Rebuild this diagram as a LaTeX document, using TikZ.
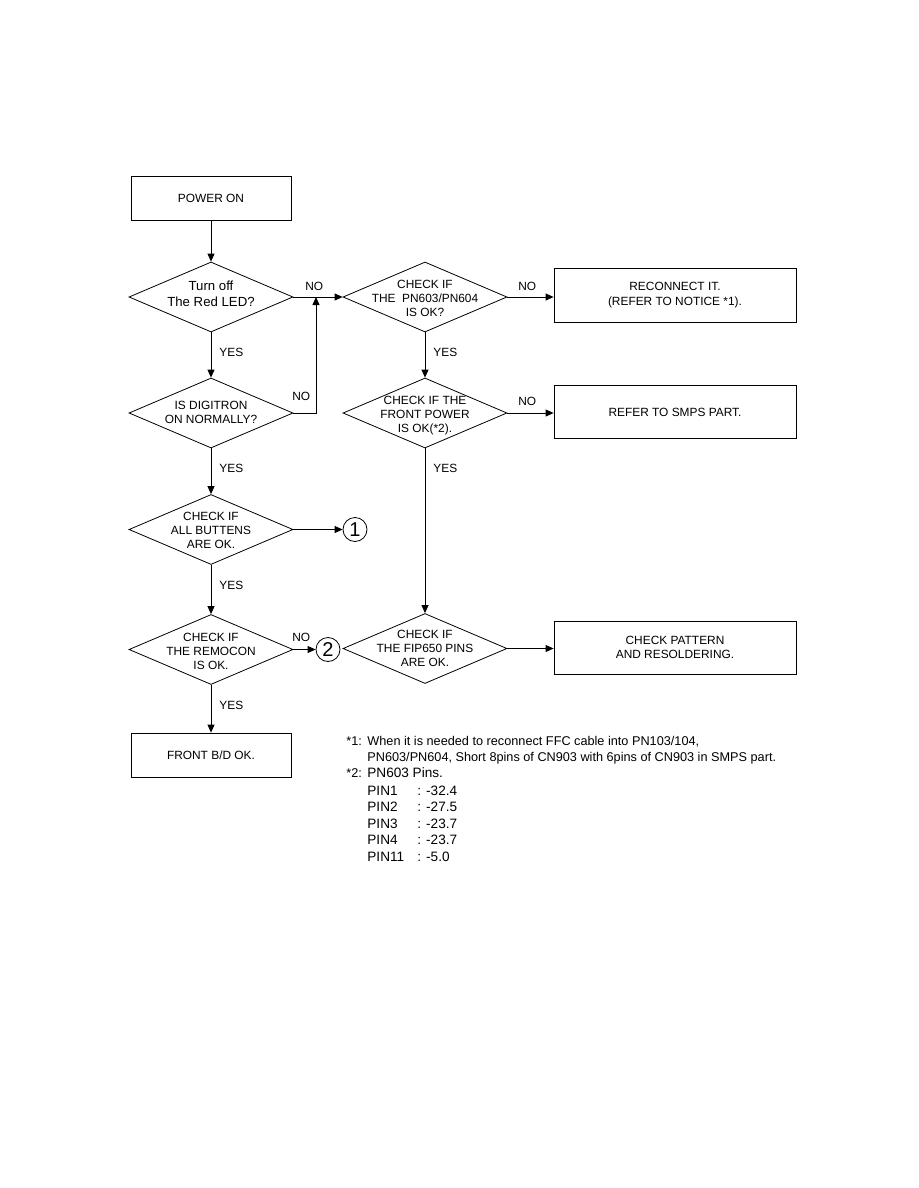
\documentclass[tikz,border=0pt]{standalone}
\usepackage{fontspec}
\setmainfont{Liberation Sans}
\usetikzlibrary{shapes.geometric,arrows.meta}
\begin{document}
\begin{tikzpicture}[x=1pt,y=-1pt,line width=0.8pt,
  box/.style={draw, rectangle, inner sep=0pt, align=center, font=\fontsize{11.9}{14.5}\selectfont},
  dia/.style={draw, diamond, inner sep=0pt, minimum width=164pt, minimum height=70pt},
  dtext/.style={align=center, inner sep=0pt, font=\fontsize{11.9}{14}\selectfont},
  lbl/.style={anchor=west, inner sep=0pt, font=\fontsize{11.9}{14}\selectfont},
  conn/.style={draw, circle, inner sep=0pt, minimum size=24pt, font=\fontsize{20}{20}\selectfont},
  arr/.style={-{Triangle[length=8pt,width=7pt]}},
  note/.style={anchor=base west, inner sep=0pt, font=\fontsize{12.7}{16}\selectfont},
  bignote/.style={anchor=base west, inner sep=0pt, font=\fontsize{13.6}{16}\selectfont}]
\useasboundingbox (0,0) rectangle (918,1188);

% boxes
\node[box, minimum width=160pt, minimum height=44pt] (pon) at (211,198) {POWER ON};
\node[box, minimum width=160pt, minimum height=44pt] (fok) at (211,755) {FRONT B/D OK.};
\node[box, minimum width=242pt, minimum height=54pt] (recon) at (675,295) {RECONNECT IT.\\(REFER TO NOTICE *1).};
\node[box, minimum width=242pt, minimum height=53pt] (smps) at (675,412) {REFER TO SMPS PART.};
\node[box, minimum width=242pt, minimum height=53pt] (patt) at (675,647.5) {CHECK PATTERN\\AND RESOLDERING.};

% diamonds
\node[dia] (d1) at (211,297) {};
\node[dtext, font=\fontsize{13.2}{16.5}\selectfont] (t1) at (211,294) {Turn off\\The Red LED?};
\node[dia] (d2) at (211,413) {};
\node[dtext] (t2) at (211,412.5) {IS DIGITRON\\ON NORMALLY?};
\node[dia] (d5) at (211,529.5) {};
\node[dtext] (t5) at (211,530) {CHECK IF\\ALL BUTTENS\\ARE OK.};
\node[dia] (d6) at (211,649.5) {};
\node[dtext] (t6) at (211,651) {CHECK IF\\THE REMOCON\\IS OK.};
\node[dia] (d3) at (425,297) {};
\node[dtext] (t3) at (425,298.5) {CHECK IF\\THE\ \ PN603/PN604\\IS OK?};
\node[dia] (d4) at (425,413) {};
\node[dtext] (t4) at (425,415.5) {CHECK IF THE\\FRONT POWER\\IS OK(*2).};
\node[dia] (d7) at (425,648.5) {};
\node[dtext] (t7) at (425,648.5) {CHECK IF\\THE FIP650 PINS\\ARE OK.};

% connectors (circles)
\node[conn] (c1) at (355,529.5) {1};
\node[conn] (c2) at (328,649.5) {2};

% arrows
\draw[arr] (pon) -- (d1.north);
\draw[arr] (d1.south) -- (d2.north);
\draw[arr] (d2.south) -- (d5.north);
\draw[arr] (d5.south) -- (d6.north);
\draw[arr] (d6.south) -- (fok.north);
\draw[arr] (d1.east) -- (d3.west);
\coordinate (j) at (316,297);
\draw[arr] (d2.east) -| (j);
\draw[arr] (d3.east) -- (recon.west |- d3.east);
\draw[arr] (d3.south) -- (d4.north);
\draw[arr] (d4.east) -- (smps.west |- d4.east);
\draw[arr] (d4.south) -- (d7.north);
\draw[arr] (d7.east) -- (patt.west |- d7.east);
\draw[arr] (d5.east) -- (c1.west);
\draw[arr] (d6.east) -- (c2.west);

% labels
\node[lbl] (y1) at (219,352) {YES};
\node[lbl] (y2) at (219,468) {YES};
\node[lbl] (y3) at (219,585) {YES};
\node[lbl] (y4) at (219,705) {YES};
\node[lbl] (y5) at (433,352) {YES};
\node[lbl] (y6) at (433,468) {YES};
\node[lbl] (n1) at (305,286) {NO};
\node[lbl] (n2) at (292,396) {NO};
\node[lbl] (n3) at (518,286) {NO};
\node[lbl] (n4) at (518,401) {NO};
\node[lbl] (n5) at (292,637) {NO};

% notes
\node[note] (s1) at (346,745) {*1:};
\node[note] (l1) at (367,745) {When it is needed to reconnect FFC cable into PN103/104,};
\node[note] (l2) at (367,761) {PN603/PN604, Short 8pins of CN903 with 6pins of CN903 in SMPS part.};
\node[note] (s2) at (346,777) {*2:};
\node[bignote] (l3) at (367,777) {PN603 Pins.};
\node[bignote] (p1) at (367,795) {PIN1};
\node[bignote] (p2) at (367,811) {PIN2};
\node[bignote] (p3) at (367,828) {PIN3};
\node[bignote] (p4) at (367,844) {PIN4};
\node[bignote] (p5) at (367,861) {PIN11};
\node[bignote] (v1) at (417,795) {: -32.4};
\node[bignote] (v2) at (417,811) {: -27.5};
\node[bignote] (v3) at (417,828) {: -23.7};
\node[bignote] (v4) at (417,844) {: -23.7};
\node[bignote] (v5) at (417,861) {: -5.0};
\end{tikzpicture}
\end{document}
